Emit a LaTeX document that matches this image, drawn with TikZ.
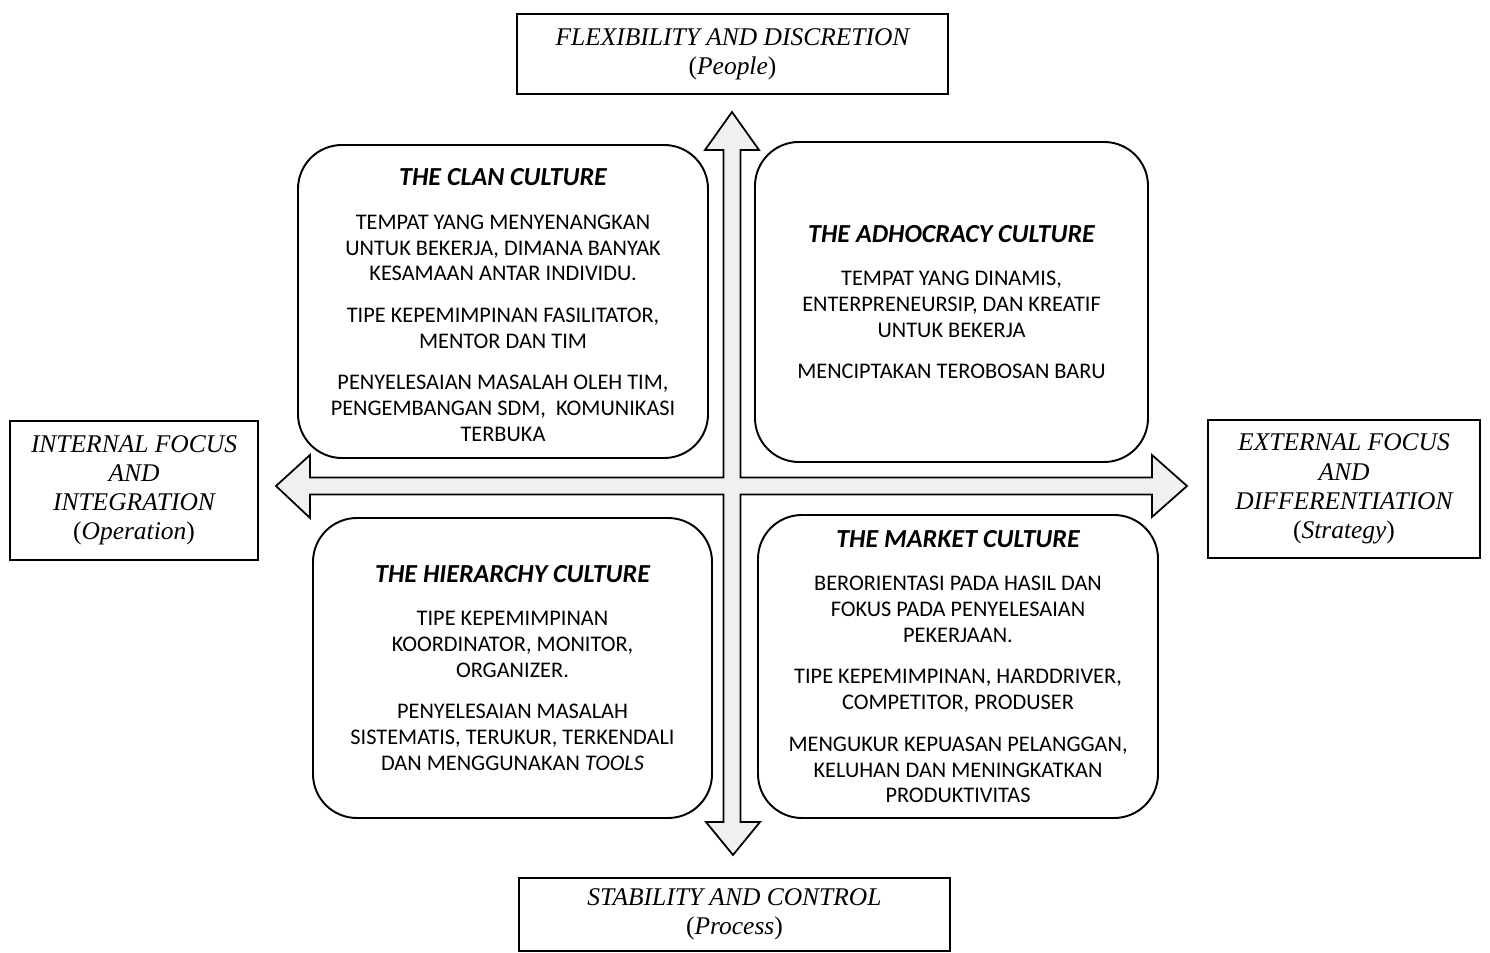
\documentclass[tikz,border=0pt]{standalone}
\usepackage{fontspec}
\setmainfont{Liberation Serif}
\setsansfont{Carlito}
\usepackage{tikz}
\usetikzlibrary{positioning}
\usetikzlibrary{calc}
\tikzset{culture/.style={draw, line width=1.1pt, rounded corners=25pt, inner sep=0pt, align=center, font=\sffamily\fontsize{12.7}{14.7}\selectfont}}
\tikzset{axisbox/.style={draw, line width=1.1pt, inner sep=0pt, align=center, font=\itshape\fontsize{14.5}{16.6}\selectfont}}
\tikzset{bigarrow/.style={draw, line width=1pt, fill=gray!12, line join=miter}}
\newcommand{\ctitle}[1]{{\fontsize{14.8}{17}\selectfont\bfseries\itshape #1}}
\newcommand{\paren}[1]{\textup{(}#1\textup{)}}

\begin{document}
\begin{tikzpicture}[x=0.2mm, y=-0.2mm]
\useasboundingbox (0,0) rectangle (1490,953);

\coordinate (mid) at (732,486);

\draw[bigarrow] (732,112) -- (759,150) -- (740.5,150) -- (740.5,477.5) -- (1152,477.5) -- (1152,455)
  -- (1187,486) -- (1152,517) -- (1152,494.5) -- (740.5,494.5) -- (740.5,822) -- (760,822)
  -- (733,855) -- (706,822) -- (723.5,822) -- (723.5,494.5) -- (310,494.5) -- (310,518)
  -- (276,486) -- (310,455) -- (310,477.5) -- (723.5,477.5) -- (723.5,150) -- (705,150) -- cycle;

\node[culture, minimum width=82mm, minimum height=62.6mm] (clan) at (503,301.5)
  {\rule{0pt}{14pt}\ctitle{THE CLAN CULTURE}\\[10pt]
   TEMPAT YANG MENYENANGKAN\\ UNTUK BEKERJA, DIMANA BANYAK\\ KESAMAAN ANTAR INDIVIDU.\\[9pt]
   TIPE KEPEMIMPINAN FASILITATOR,\\ MENTOR DAN TIM\\[9pt]
   PENYELESAIAN MASALAH OLEH TIM,\\ PENGEMBANGAN SDM,\ \ KOMUNIKASI\\ TERBUKA};
\node[culture, minimum width=78.6mm, minimum height=64mm] (adhocracy) at (951.5,302)
  {\ctitle{THE ADHOCRACY CULTURE}\\[10pt]
   TEMPAT YANG DINAMIS,\\ ENTERPRENEURSIP, DAN KREATIF\\ UNTUK BEKERJA\\[9pt]
   MENCIPTAKAN TEROBOSAN BARU};
\node[culture, minimum width=79.8mm, minimum height=60mm] (hierarchy) at (512.5,668)
  {\ctitle{THE HIERARCHY CULTURE}\\[10pt]
   TIPE KEPEMIMPINAN\\ KOORDINATOR, MONITOR,\\ ORGANIZER.\\[9pt]
   PENYELESAIAN MASALAH\\ SISTEMATIS, TERUKUR, TERKENDALI\\ DAN MENGGUNAKAN \textit{TOOLS}};
\node[culture, minimum width=80mm, minimum height=60.6mm] (market) at (958,666.5)
  {\ctitle{THE MARKET CULTURE}\\[10pt]
   BERORIENTASI PADA HASIL DAN\\ FOKUS PADA PENYELESAIAN\\ PEKERJAAN.\\[9pt]
   TIPE KEPEMIMPINAN, HARDDRIVER,\\ COMPETITOR, PRODUSER\\[9pt]
   MENGUKUR KEPUASAN PELANGGAN,\\ KELUHAN DAN MENINGKATKAN\\ PRODUKTIVITAS};

\node[axisbox, minimum width=86.2mm, minimum height=16mm] (people) at (732.5,54)
  {FLEXIBILITY AND DISCRETION\\ \paren{People}};
\node[axisbox, minimum width=86.2mm, minimum height=14.6mm] (process) at (734.5,914.5)
  {STABILITY AND CONTROL\\ \paren{Process}};
\node[axisbox, minimum width=49.6mm, minimum height=27.8mm] (operation) at (134,490.5)
  {INTERNAL FOCUS\\ AND\\ INTEGRATION\\ \paren{Operation}};
\node[axisbox, minimum width=54.4mm, minimum height=27.6mm] (strategy) at (1344,489)
  {EXTERNAL FOCUS\\ AND\\ DIFFERENTIATION\\ \paren{Strategy}};
\end{tikzpicture}
\end{document}
